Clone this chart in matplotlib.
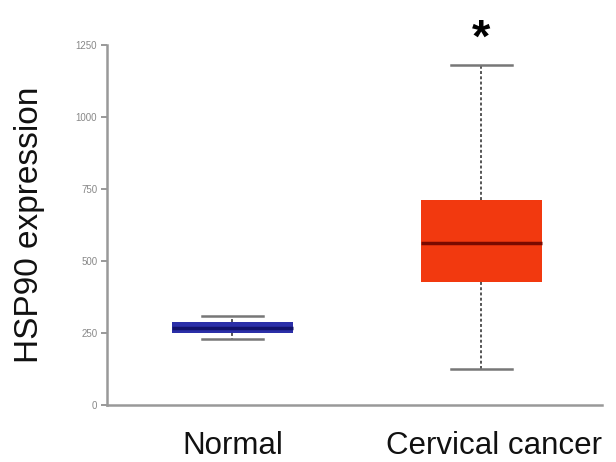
import matplotlib
matplotlib.use("Agg")
import matplotlib.pyplot as plt

plt.rcParams['font.family'] = ['Liberation Sans', 'DejaVu Sans']

# groups and box statistics
groups = ['Normal', 'Cervical cancer']
whislo = [228, 125]
q1 = [249, 426]
med = [267, 564]
q3 = [287, 713]
whishi = [308, 1181]
box_colors = ['#2b2fa8', '#f2390f']
median_colors = ['#12126a', '#7a0a00']
yticks = [0, 250, 500, 750, 1000, 1250]

stats = []
for i, g in enumerate(groups):
    stats.append(dict(label=g, whislo=whislo[i], q1=q1[i], med=med[i],
                      q3=q3[i], whishi=whishi[i], fliers=[]))

fig = plt.figure(figsize=(6.16, 4.62), dpi=100)
ax = fig.add_axes([107/616, 1 - 405/462, (602-107)/616, (405-45)/462])

for i, s in enumerate(stats):
    ax.bxp([s], positions=[i + 1], widths=0.484, patch_artist=True, showfliers=False,
           boxprops=dict(facecolor=box_colors[i], edgecolor=box_colors[i], linewidth=0),
           medianprops=dict(color=median_colors[i], linewidth=2.5),
           whiskerprops=dict(color='#555555', linestyle=(0, (1.5, 1.2)), linewidth=1.4),
           capprops=dict(color='#777777', linewidth=1.8))

ax.set_xlim(0.496, 2.484)
ax.set_ylim(0, 1250)
ax.set_yticks(yticks)
ax.set_yticklabels([str(t) for t in yticks], fontsize=7, color='#888888')
ax.tick_params(axis='y', colors='#888888', length=4, width=1.2, pad=3)
ax.tick_params(axis='x', length=0, labelbottom=False)
for side in ['top', 'right']:
    ax.spines[side].set_visible(False)
for side in ['left', 'bottom']:
    ax.spines[side].set_color('#999999')
    ax.spines[side].set_linewidth(1.8)

# category labels below the axis
label_x = [1.0, 2.05]
for i, g in enumerate(groups):
    ax.text(label_x[i], -0.072, g, transform=ax.get_xaxis_transform(),
            ha='center', va='top', fontsize=22.5, color='#111111')

ax.set_ylabel('HSP90 expression', fontsize=24, color='#111111', labelpad=22)

# significance mark
ax.text(2, 1270, '*', ha='center', va='center',
        fontsize=34, fontweight='bold', color='black', clip_on=False)

fig.savefig('out.png', dpi=100)
